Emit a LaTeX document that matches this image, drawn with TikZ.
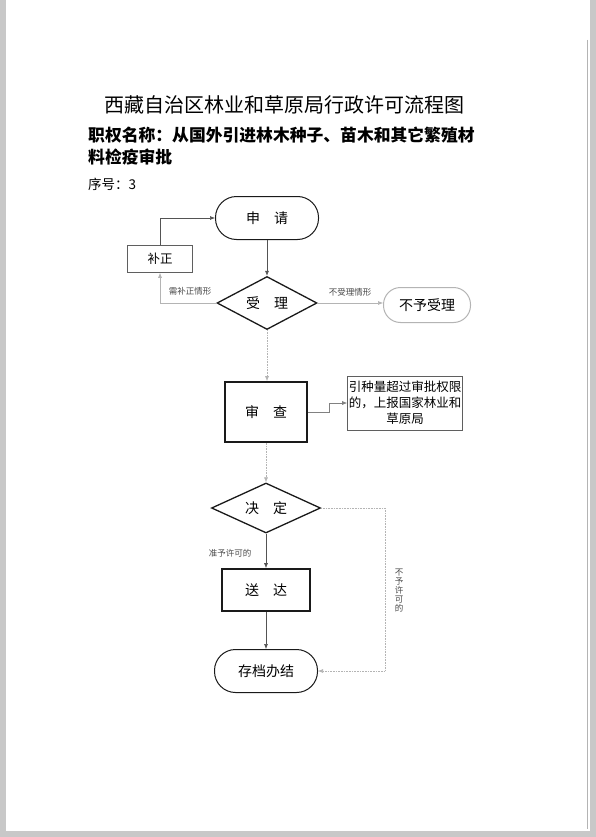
\documentclass[tikz,border=0pt]{standalone}
\usepackage{fontspec}
\setmainfont{Noto Sans CJK SC}
\usepackage{tikz}
\usetikzlibrary{arrows.meta,shapes.geometric,calc}
\definecolor{Ink}{HTML}{1A1A1A}
\definecolor{Faint}{HTML}{B4B4B4}
\definecolor{Scan}{HTML}{C8C8C8}
\newcommand{\fs}[2]{\fontsize{#1}{#2}\selectfont}
\tikzset{
  term/.style={draw=Ink,line width=1pt,rounded corners=21pt,minimum width=103pt,minimum height=43pt,inner sep=0pt,font=\fs{14}{16}},
  proc/.style={draw=Ink,line width=1.7pt,inner sep=0pt,font=\fs{14}{16}},
  side/.style={draw=Ink!70,line width=.6pt,inner sep=0pt,font=\fs{12.5}{14}},
  decide/.style={diamond,aspect=2,draw=Ink,line width=1.3pt,inner sep=0pt,font=\fs{14}{16}},
  arr/.style={-{Latex[length=5pt,width=4pt]},draw=Ink!75,line width=.6pt},
  dimarr/.style={arr,draw=Faint,densely dotted},
  tag/.style={font=\fs{8.5}{9},text=Ink!80,inner sep=1pt},
}

\begin{document}
\begin{tikzpicture}[x=1pt,y=-1pt]
\useasboundingbox (0,0) rectangle (596,837);
% scanned page
\fill[Scan] (0,0) rectangle (596,837);
\fill[white] (6,0) rectangle (590,831);
\draw[Faint,line width=.5pt] (587,40) -- (587,829);
% headings
\node[font=\fs{20}{22}] (title) at (284,105) {西藏自治区林业和草原局行政许可流程图};
\node[font=\fs{16.8}{22}\bfseries,anchor=north west,align=left,inner sep=0pt] (name) at (88,127)
  {职权名称：从国外引进林木种子、苗木和其它繁殖材\\料检疫审批};
\node[font=\fs{13.5}{15},anchor=west,inner sep=0pt] (num) at (88,184) {序号：3};
% acceptance
\node[term] (apply) at (267,218) {申\hspace{1em}请};
\node[side,minimum width=65pt,minimum height=27pt] (fix) at (160,259) {补正};
\node[decide,minimum width=100pt,minimum height=53pt] (accept) at (267,303) {受\hspace{1em}理};
\node[term,draw=Faint,minimum width=87pt,minimum height=35pt,rounded corners=17pt] (reject) at (427,305) {不予受理};
\draw[arr] (apply) -- (accept);
\draw[arr,draw=Faint] (accept.west) -| (fix.south);
\draw[arr] (fix.north) |- (apply.west);
\draw[arr,draw=Faint] (accept.east) -- (reject.west |- accept.east);
\node[tag] at (190,291) {需补正情形};
\node[tag] at (350,292) {不受理情形};
% review
\node[proc,minimum width=82pt,minimum height=60pt] (review) at (266,412) {审\hspace{1em}查};
\node[side,minimum width=115pt,minimum height=54pt,align=center,font=\fs{12.5}{16}] (report) at (405,403)
  {引种量超过审批权限\\的，上报国家林业和\\草原局};
\draw[dimarr] (accept.south) -- (review.north -| accept.south);
\draw[arr,draw=Ink!55] (review.east |- 0,412) -- ++(21,0) |- (report.west);
% decision
\node[decide,minimum width=109pt,minimum height=50pt] (decide) at (266,508) {决\hspace{1em}定};
\node[proc,minimum width=88pt,minimum height=42pt] (deliver) at (266,590) {送\hspace{1em}达};
\node[term] (archive) at (266,671) {存档办结};
\draw[dimarr] (review) -- (decide);
\draw[arr] (decide) -- (deliver);
\draw[arr] (deliver) -- (archive);
\coordinate (turn) at (385,508);
\draw[dimarr] (decide.east) -- (turn) |- (archive.east);
\node[tag] at (230,553) {准予许可的};
\node[tag,align=center] at (399,590) {不\\予\\许\\可\\的};
\end{tikzpicture}
\end{document}
